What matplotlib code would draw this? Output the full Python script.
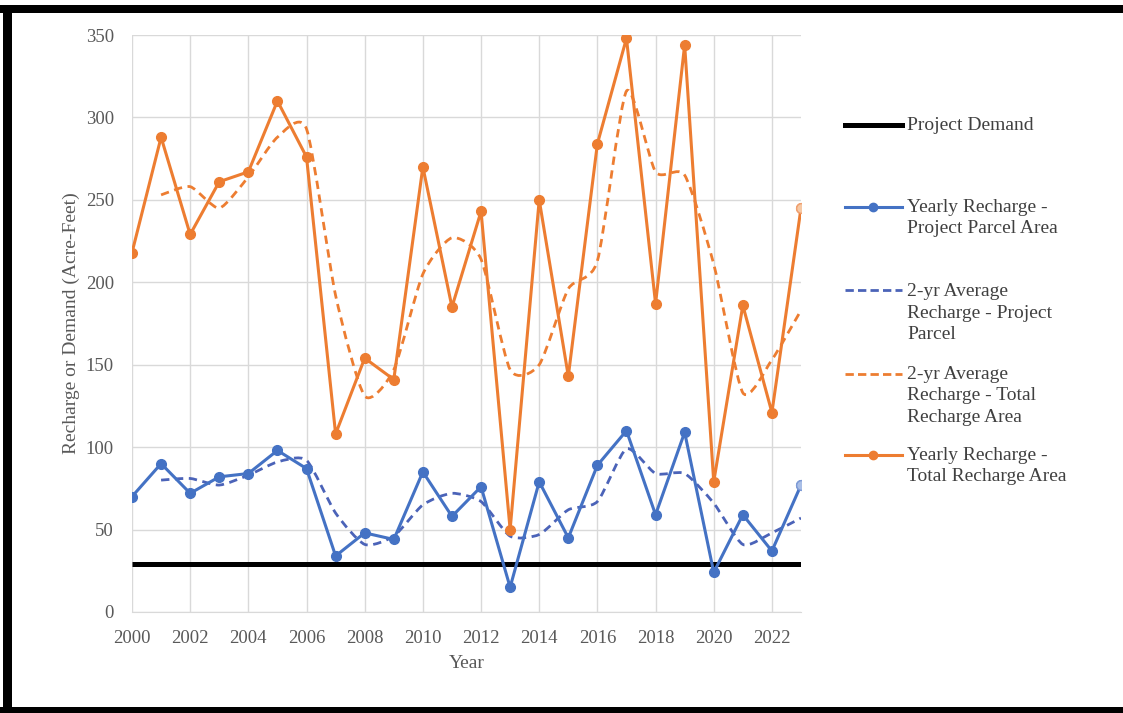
import matplotlib
matplotlib.use("Agg")
import matplotlib.pyplot as plt
import numpy as np
from matplotlib.path import Path
from matplotlib.patches import PathPatch, Rectangle
from matplotlib.lines import Line2D

years = list(range(2000, 2024))
avg_years = list(range(2001, 2024))

yearly_total = [218, 288, 229, 261, 267, 310, 276, 108, 154, 141, 270, 185,
                243, 50, 250, 143, 284, 348, 187, 344, 79, 186, 121, 245]
yearly_parcel = [70, 90, 72, 82, 84, 98, 87, 34, 48, 44, 85, 58,
                 76, 15, 79, 45, 89, 110, 59, 109, 24, 59, 37, 77]
avg_total = [253, 258, 245, 264, 288, 293, 192, 131, 147, 205, 227, 214,
             147, 150, 196, 213, 316, 267, 265, 211, 133, 153, 183]
avg_parcel = [80, 81, 77, 83, 91, 92, 60, 41, 46, 65, 72, 67,
              46, 47, 62, 67, 99, 84, 84, 66, 41, 48, 57]
project_demand = 29

x_ticks = list(range(2000, 2023, 2))
y_ticks = [0, 50, 100, 150, 200, 250, 300, 350]

legend_labels = ["Project Demand",
                 "Yearly Recharge -\nProject Parcel Area",
                 "2-yr Average\nRecharge - Project\nParcel",
                 "2-yr Average\nRecharge - Total\nRecharge Area",
                 "Yearly Recharge -\nTotal Recharge Area"]

ORANGE = "#ED7D31"
BLUE = "#4472C4"
BLUE_D = "#4B63B8"
TXT = "#595959"

plt.rcParams['font.family'] = ['Liberation Serif', 'DejaVu Serif']

fig = plt.figure(figsize=(11.23, 7.13), dpi=100)
ax = fig.add_axes([132/1123, 1-612/713, (801-132)/1123, (612-35)/713])


def smooth_path(xs, ys, t=0.11):
    xs = np.asarray(xs, float)
    ys = np.asarray(ys, float)
    verts = [(xs[0], ys[0])]
    codes = [Path.MOVETO]
    n = len(xs)
    for i in range(n - 1):
        p0 = (xs[max(i-1, 0)], ys[max(i-1, 0)])
        p1 = (xs[i], ys[i])
        p2 = (xs[i+1], ys[i+1])
        p3 = (xs[min(i+2, n-1)], ys[min(i+2, n-1)])
        c1 = (p1[0] + (p2[0]-p0[0])*t, p1[1] + (p2[1]-p0[1])*t)
        c2 = (p2[0] - (p3[0]-p1[0])*t, p2[1] - (p3[1]-p1[1])*t)
        verts += [c1, c2, p2]
        codes += [Path.CURVE4]*3
    return Path(verts, codes)


# demand line
ax.plot([years[0], years[-1]], [project_demand]*2, color="black", lw=3.6,
        solid_capstyle="butt", zorder=3)

# dashed smooth averages
for xs, ys, col in [(avg_years, avg_total, ORANGE), (avg_years, avg_parcel, BLUE_D)]:
    patch = PathPatch(smooth_path(xs, ys), facecolor="none", edgecolor=col,
                      lw=2.0, linestyle=(0, (3, 2)), transform=ax.transData, zorder=4)
    ax.add_patch(patch)

# yearly lines
ax.plot(years, yearly_total, color=ORANGE, lw=2.2, marker="o", ms=7,
        mfc=ORANGE, mec=ORANGE, zorder=5)
ax.plot(years, yearly_parcel, color=BLUE, lw=2.2, marker="o", ms=7,
        mfc=BLUE, mec=BLUE, zorder=5)
ax.plot(years[-1:], yearly_total[-1:], ls="none", marker="o", ms=7,
        mfc="#F6C8A4", mec="#F0A070", zorder=6)
ax.plot(years[-1:], yearly_parcel[-1:], ls="none", marker="o", ms=7,
        mfc="#A9BEE6", mec="#7F9BD6", zorder=6)

ax.set_xlim(2000, 2023)
ax.set_ylim(0, 350)
ax.set_xticks(x_ticks)
ax.set_yticks(y_ticks)
ax.tick_params(length=0, labelsize=13.5, labelcolor=TXT)
ax.tick_params(axis="y", pad=13)
ax.tick_params(axis="x", pad=13)
ax.grid(True, color="#D9D9D9", lw=1)
ax.set_axisbelow(True)
for s in ["top", "right", "left"]:
    ax.spines[s].set_visible(False)
ax.spines["bottom"].set_color("#D9D9D9")
ax.set_ylabel("Recharge or Demand (Acre-Feet)", fontsize=14, color=TXT, labelpad=4)
ax.set_xlabel("Year", fontsize=14, color=TXT, labelpad=6)

# manual legend
entries = [
    (125, dict(color="black", lw=3.6), None, 1),
    (218, dict(color=BLUE, lw=2.2), BLUE, 2),
    (313, dict(color=BLUE_D, lw=2.0, ls=(0, (3, 1.5))), None, 3),
    (396, dict(color=ORANGE, lw=2.0, ls=(0, (3, 1.5))), None, 3),
    (466, dict(color=ORANGE, lw=2.2), ORANGE, 2),
]
for (yc, style, mcol, nlines), label in zip(entries, legend_labels):
    ytop_line = yc - (nlines - 1) * 22.5 / 2
    yf = 1 - ytop_line/713
    fig.add_artist(Line2D([845/1123, 902/1123], [yf, yf], transform=fig.transFigure, **style))
    if mcol:
        fig.add_artist(Line2D([873/1123], [yf], transform=fig.transFigure, ls="none",
                              marker="o", ms=6, mfc=mcol, mec=mcol))
    fig.text(907/1123, 1 - yc/713, label, fontsize=14, color="#404040",
             ha="left", va="center", linespacing=1.33)

# outer frame
fig.add_artist(Rectangle((0, 1-13/713), 1, 8/713, transform=fig.transFigure,
                         color="black", lw=0))
fig.add_artist(Rectangle((3/1123, 0), 9/1123, 1-5/713, transform=fig.transFigure,
                         color="black", lw=0))
fig.add_artist(Rectangle((0, 0), 1, 6/713, transform=fig.transFigure,
                         color="black", lw=0))

fig.savefig("out.png", dpi=100)
